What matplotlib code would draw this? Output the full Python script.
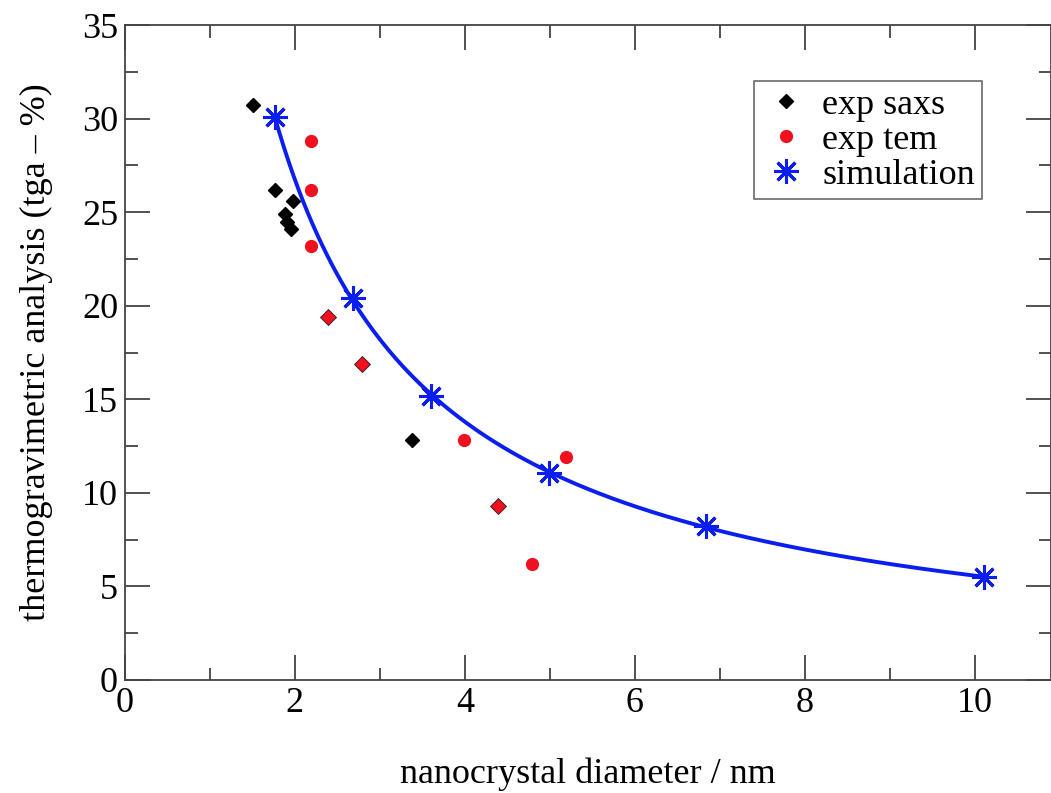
import numpy as np
import matplotlib
matplotlib.use("Agg")
import matplotlib.pyplot as plt
from matplotlib.ticker import MultipleLocator

# data
saxs_x = [1.51, 1.77, 1.98, 1.88, 1.91, 1.95, 3.38]
saxs_y = [30.7, 26.2, 25.6, 24.9, 24.5, 24.1, 12.8]
tem_x = [2.19, 2.19, 2.19, 3.99, 5.19, 4.79]
tem_y = [28.8, 26.2, 23.2, 12.8, 11.9, 6.2]
both_x = [2.39, 2.79, 4.39]
both_y = [19.4, 16.9, 9.3]
sim_x = [1.76, 2.68, 3.60, 4.99, 6.84, 10.11]
sim_y = [30.1, 20.4, 15.2, 11.06, 8.23, 5.5]

plt.rcParams['font.family'] = ['Liberation Serif', 'DejaVu Serif']

fig = plt.figure(figsize=(10.51, 7.93), dpi=100)
ax = fig.add_axes([125/1051, 1-680/793, 1-125/1051, (680-25)/793])

# smooth curve through simulation points (log-log quadratic fit)
lx = np.log(sim_x); ly = np.log(sim_y)
c = np.polyfit(lx, ly, 2)
xs = np.linspace(min(sim_x), max(sim_x), 300)
ax.plot(xs, np.exp(np.polyval(c, np.log(xs))), color='#0a1ef0', lw=2.8, zorder=2)

ax.plot(saxs_x, saxs_y, 'D', color='black', ms=7.5, ls='none', zorder=3, label='exp saxs')
ax.plot(tem_x, tem_y, 'o', color='#f0101e', ms=8.5, ls='none', zorder=3, label='exp tem')
ax.plot(both_x, both_y, 'D', color='#f0101e', mec='#202020', mew=0.6, ms=8.6, ls='none', zorder=3)
ax.plot(sim_x, sim_y, marker=(8, 2, 0), color='#0a1ef0', ms=18, mew=2.2, ls='none', zorder=4,
        label='simulation')

ax.set_xlim(0, 10.9)
ax.set_ylim(0, 35)
ax.xaxis.set_major_locator(MultipleLocator(2))
ax.xaxis.set_minor_locator(MultipleLocator(1))
ax.yaxis.set_major_locator(MultipleLocator(5))
ax.yaxis.set_minor_locator(MultipleLocator(2.5))
ax.tick_params(which='both', direction='in', top=True, right=True, width=1.2, colors='#333333',
               labelcolor='black', labelsize=26)
ax.tick_params(which='major', length=18, pad=5)
ax.tick_params(which='minor', length=9)
for s in ax.spines.values():
    s.set_linewidth(1.3)
    s.set_color('#444444')

ax.set_xlabel('nanocrystal diameter / nm', fontsize=26, labelpad=27)
ax.set_ylabel('thermogravimetric analysis (tga – %)', fontsize=26, labelpad=21)

leg = ax.legend(loc='upper right', fontsize=26, frameon=True, fancybox=False,
                edgecolor='#444444', handletextpad=0.3, borderpad=0.2, labelspacing=0.05,
                handlelength=1.4, borderaxespad=0)
leg.get_frame().set_linewidth(1.2)
leg.set_bbox_to_anchor((982/1051, 1 - 81/793), transform=fig.transFigure)

fig.savefig('out.png', dpi=100)
